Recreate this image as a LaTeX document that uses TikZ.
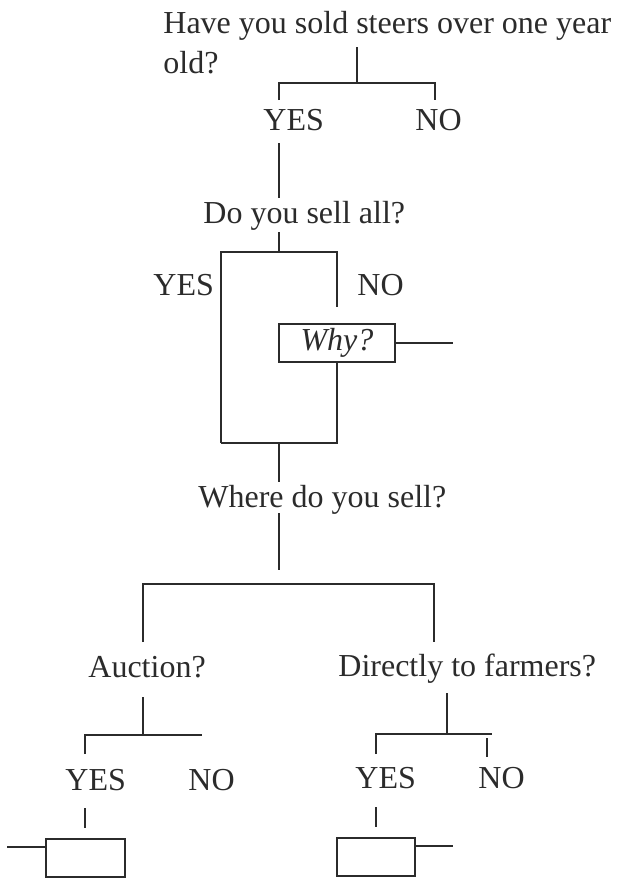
\documentclass[tikz,border=0pt]{standalone}
\usepackage{fontspec}
\setmainfont{Liberation Serif}
\usetikzlibrary{calc}
\definecolor{ink}{HTML}{2B2B2B}
\tikzset{
  txt/.style={anchor=base west, inner sep=0pt, font=\fontsize{16}{19}\selectfont, text=ink},
  wire/.style={draw=ink, line width=1pt},
  answerbox/.style={draw=ink, line width=1pt, inner sep=0pt, minimum height=19pt,
    font=\fontsize{16}{19}\selectfont\itshape, text=ink},
}
\begin{document}
\begin{tikzpicture}[x=0.5pt, y=-0.5pt]
\useasboundingbox (0,0) rectangle (620,878);

% first question
\node[txt] (q1) at (163,33) {Have you sold steers over one year};
\node[txt] (q1b) at (163,73) {old?};
\coordinate (s1) at (357,47);
\coordinate (j1) at (357,83);
\coordinate (yes1t) at (279,100);
\coordinate (no1t) at (435,100);
\draw[wire] (s1) -- (j1);
\draw[wire] (yes1t) |- (j1) -| (no1t);
\node[txt] (yes1) at (263,130) {YES};
\node[txt] (no1) at (415,130) {NO};

% second question
\coordinate (yes1b) at (279,143);
\coordinate (q2t) at (279,198);
\draw[wire] (yes1b) -- (q2t);
\node[txt] (q2) at (203,223) {Do you sell all?};
\coordinate (q2b) at (279,232);
\coordinate (j2) at (279,252);
\coordinate (yes2l) at (221,443);
\coordinate (no2t) at (337,307);
\draw[wire] (q2b) -- (j2);
\draw[wire] (yes2l) |- (j2) -| (no2t);
\node[txt] (yes2) at (153,295) {YES};
\node[txt] (no2) at (357,295) {NO};
\node[answerbox, minimum width=58pt] (why) at (337,343) {Why?};
\coordinate (whyr) at (453,343);
\draw[wire] (why.east) -- (whyr);
\draw[wire] (why.south) |- (yes2l);

% third question
\coordinate (j3) at (279,443);
\coordinate (q3t) at (279,482);
\draw[wire] (j3) -- (q3t);
\node[txt] (q3) at (198,507) {Where do you sell?};
\coordinate (q3b) at (279,513);
\coordinate (q3e) at (279,570);
\draw[wire] (q3b) -- (q3e);
\coordinate (bar4) at (279,584);
\coordinate (aucT) at (143,642);
\coordinate (dirT) at (434,642);
\draw[wire] (aucT) |- (bar4) -| (dirT);
\node[txt] (auc) at (88,677) {Auction?};
\node[txt] (dir) at (338,676) {Directly to farmers?};

% auction branch
\coordinate (aucb) at (143,697);
\coordinate (j5) at (143,735);
\coordinate (yes3t) at (85,754);
\coordinate (no3e) at (202,735);
\draw[wire] (aucb) -- (j5);
\draw[wire] (yes3t) |- (j5) -- (no3e);
\node[txt] (yes3) at (65,790) {YES};
\node[txt] (no3) at (188,790) {NO};
\coordinate (tick3a) at (85,808);
\coordinate (tick3b) at (85,828);
\draw[wire] (tick3a) -- (tick3b);
\node[answerbox, minimum width=39.5pt] (box3) at (85.5,857.5) {};
\coordinate (lead3) at (7,847);
\draw[wire] (lead3) -- (lead3 -| box3.west);

% farmers branch
\coordinate (dirb) at (447,693);
\coordinate (j6) at (447,734);
\coordinate (yes4t) at (376,754);
\coordinate (no4e) at (492,734);
\draw[wire] (dirb) -- (j6);
\draw[wire] (yes4t) |- (j6) -- (no4e);
\coordinate (no4a) at (487,738);
\coordinate (no4b) at (487,757);
\draw[wire] (no4a) -- (no4b);
\node[txt] (yes4) at (355,788) {YES};
\node[txt] (no4) at (478,788) {NO};
\coordinate (tick4a) at (376,807);
\coordinate (tick4b) at (376,827);
\draw[wire] (tick4a) -- (tick4b);
\node[answerbox, minimum width=39pt] (box4) at (376,856.5) {};
\coordinate (lead4) at (453,846);
\draw[wire] (lead4 -| box4.east) -- (lead4);
\end{tikzpicture}
\end{document}
